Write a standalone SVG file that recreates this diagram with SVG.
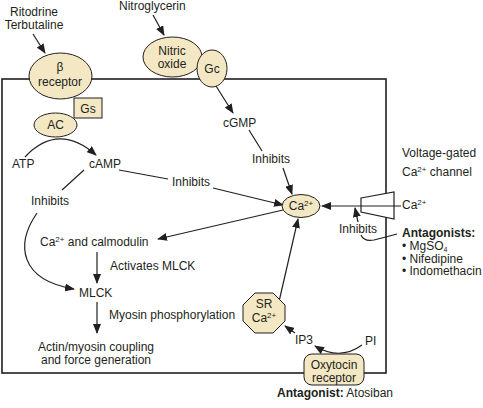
<svg xmlns="http://www.w3.org/2000/svg" width="483" height="408" viewBox="0 0 483 408">
<style>
text{font-family:"Liberation Sans",Arial,sans-serif;font-size:12px;fill:#231f20}
.m{text-anchor:middle}
.b{font-weight:bold}
.sup{font-size:8px}
.nd{fill:#f4e7c3;stroke:#231f20;stroke-width:1}
.ln{fill:none;stroke:#231f20;stroke-width:1.2}
.ar{fill:none;stroke:#231f20;stroke-width:1.2;marker-end:url(#ah)}
</style>
<defs>
<marker id="ah" markerWidth="10" markerHeight="8" refX="9" refY="4" orient="auto" markerUnits="userSpaceOnUse">
<path d="M0,0 L10,4 L0,8 z" fill="#231f20"/>
</marker>
</defs>
<rect id="cell" x="2" y="79" width="384" height="294" fill="none" stroke="#231f20" stroke-width="1.6"/>
<g id="channel">
<path d="M361,198 L394,192 L394,219 L361,212 Z" fill="#fff" stroke="#231f20" stroke-width="1.2"/>
</g>
<g id="connectors">
<path class="ar" d="M33,34 L45,53"/>
<path class="ar" d="M153,15 L164,35"/>
<path class="ar" d="M216,86 L233,113"/>
<path class="ar" d="M25,157 Q58,122 96,155"/>
<path class="ln" d="M119,170 L168,179"/>
<path class="ar" d="M213,188 L283,205"/>
<path class="ln" d="M249,130 L262,151"/>
<path class="ar" d="M283,168 L292,194"/>
<path class="ln" d="M84,170 L62,190"/>
<path class="ar" d="M37,213 C15,245 20,280 74,289"/>
<path class="ar" d="M283,210 L158,239"/>
<path class="ar" d="M97,252 L97,283"/>
<path class="ar" d="M97,302 L97,333"/>
<path class="ar" d="M401,206 L322,206"/>
<path class="ar" d="M358,222 L355,208"/>
<path class="ln" d="M361,235 Q364,242 374,240 Q386,237 397,234"/>
<path class="ar" d="M278,306 L298,219"/>
<path class="ar" d="M295,333 L285,326"/>
<path class="ar" d="M362,345 Q340,361 315,346"/>
</g>
<g id="beta-receptor">
<ellipse class="nd" cx="60.5" cy="76" rx="31.5" ry="23"/>
<text class="m" x="60" y="71">β</text>
<text class="m" x="60" y="86">receptor</text>
</g>
<g id="gs">
<rect class="nd" x="74" y="98" width="28" height="20"/>
<text class="m" x="88" y="113">Gs</text>
</g>
<g id="ac">
<ellipse class="nd" cx="55.5" cy="125" rx="21.5" ry="12"/>
<text class="m" x="55.5" y="129">AC</text>
</g>
<g id="nitric-oxide">
<ellipse class="nd" cx="172.5" cy="57" rx="29.5" ry="20"/>
<text class="m" x="172" y="55">Nitric</text>
<text class="m" x="172" y="68">oxide</text>
</g>
<g id="gc">
<ellipse class="nd" cx="212" cy="68.5" rx="15" ry="18.5"/>
<text class="m" x="212" y="73">Gc</text>
</g>
<g id="ca">
<ellipse class="nd" cx="301" cy="206" rx="19" ry="11.5"/>
<text class="m" x="301" y="210">Ca<tspan class="sup" dy="-4">2+</tspan></text>
</g>
<g id="sr">
<path class="nd" d="M255,293 L273,293 L285,305 L285,321 L273,333 L255,333 L243,321 L243,305 Z"/>
<text class="m" x="264" y="308">SR</text>
<text class="m" x="264" y="322">Ca<tspan class="sup" dy="-4">2+</tspan></text>
</g>
<g id="oxytocin-receptor">
<rect class="nd" x="304" y="354" width="60" height="31" rx="8"/>
<text class="m" x="334" y="369">Oxytocin</text>
<text class="m" x="334" y="381.5">receptor</text>
</g>
<g id="labels">
<text class="m" x="34" y="16">Ritodrine</text>
<text class="m" x="34" y="29">Terbutaline</text>
<text x="119" y="10">Nitroglycerin</text>
<text x="223" y="127">cGMP</text>
<text x="12" y="168">ATP</text>
<text x="89" y="168">cAMP</text>
<text x="172" y="186">Inhibits</text>
<text x="252" y="163">Inhibits</text>
<text x="31" y="205">Inhibits</text>
<text x="40" y="246">Ca<tspan class="sup" dy="-4">2+</tspan><tspan dy="4"> and calmodulin</tspan></text>
<text x="110" y="270">Activates MLCK</text>
<text x="79" y="297">MLCK</text>
<text x="109" y="319">Myosin phosphorylation</text>
<text class="m" x="96" y="351">Actin/myosin coupling</text>
<text class="m" x="96" y="364">and force generation</text>
<text x="402" y="157">Voltage-gated</text>
<text x="402" y="176">Ca<tspan class="sup" dy="-4">2+</tspan><tspan dy="4"> channel</tspan></text>
<text x="402" y="209">Ca<tspan class="sup" dy="-4">2+</tspan></text>
<text x="339" y="233">Inhibits</text>
<text class="b" x="402" y="237">Antagonists:</text>
<text x="402" y="250">• MgSO<tspan style="font-size:7px" dy="2">4</tspan></text>
<text x="402" y="262.5">• Nifedipine</text>
<text x="402" y="275">• Indomethacin</text>
<text x="295" y="344">IP3</text>
<text x="365" y="345">PI</text>
<text x="277" y="397"><tspan class="b">Antagonist:</tspan> Atosiban</text>
</g>
</svg>
